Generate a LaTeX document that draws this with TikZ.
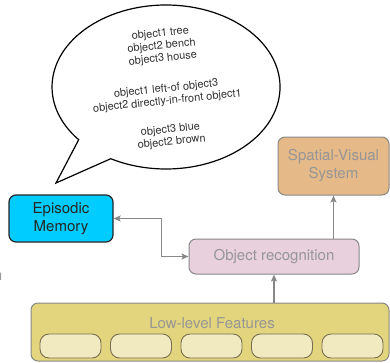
\documentclass[tikz,border=0pt]{standalone}
\usepackage{fontspec}
\setmainfont{TeX Gyre Heros}
\usepackage{tikz}
\usetikzlibrary{arrows.meta,positioning,calc}
\usepackage{xcolor}
\definecolor{MemCyan}{RGB}{0,204,255}
\definecolor{RecPink}{RGB}{232,208,221}
\definecolor{SpatTan}{RGB}{229,185,136}
\definecolor{LowKhaki}{RGB}{227,213,125}
\definecolor{PillCream}{RGB}{241,234,193}
\definecolor{PillEdge}{RGB}{120,110,80}
\definecolor{LabelGray}{RGB}{150,150,150}
\definecolor{LinkGray}{RGB}{136,136,136}

\begin{document}
\begin{tikzpicture}[x=1pt,y=-1pt,
  block/.style={draw=LinkGray,line width=1pt,rounded corners=7pt,
                align=center,font=\fontsize{15}{18}\selectfont,
                text=LabelGray,inner sep=2pt},
  pill/.style={draw=PillEdge,line width=0.9pt,
               fill=PillCream,rounded corners=9pt,
               minimum width=61pt,minimum height=24pt},
  link/.style={draw=LinkGray,line width=1.4pt,
               -{Stealth[length=7pt,width=6pt,inset=1.5pt]}},
]
\useasboundingbox (0,0) rectangle (390,362);

% speech bubble
\draw[fill=white,line width=1.2pt]
  (78.7,139.7) arc[start angle=140,end angle=479,x radius=114,y radius=82]
  -- (56,183) -- cycle;
\node[rotate=6,align=center,text=black!80,
      font=\fontsize{11}{12.5}\selectfont] (thought) at (166,88)
  {object1 tree\\object2 bench\\object3 house\\[18pt]
   object1 left-of object3\\object2 directly-in-front object1\\[16pt]
   object3 blue\\object2 brown};

% boxes
\node[block,fill=MemCyan,draw=black!85,line width=1.2pt,text=black!85,
      minimum width=104pt,minimum height=47pt] (memory) at (61,218.5)
  {Episodic\\Memory};
\node[block,fill=RecPink,minimum width=170pt,minimum height=35pt]
  (objrec) at (274,256.5) {Object recognition};
\node[block,fill=SpatTan,minimum width=111pt,minimum height=58pt]
  (spatial) at (333.5,166) {Spatial-Visual\\System};
\node[block,fill=LowKhaki,minimum width=358pt,minimum height=58pt]
  (lowlevel) at (210,332) {};
\node[text=LabelGray,font=\fontsize{15}{18}\selectfont] (lowtitle)
  at (212,323) {Low-level Features};
\foreach \i in {0,...,4}
  \node[pill] (feat\i) at (70.5+70.5*\i,346) {};

% cut-off label at the left edge
\node[anchor=east,inner sep=0pt,text=LabelGray,
      font=\fontsize{15}{18}\selectfont] (edge) at (2.5,276) {n};

% connectors
\draw[link] (lowlevel.north -| objrec.south) -- (objrec.south);
\draw[link] (objrec.north -| spatial.south) -- (spatial.south);
\draw[link,{Stealth[length=7pt,width=6pt,inset=1.5pt]}-{Stealth[length=7pt,width=6pt,inset=1.5pt]}]
  (memory.east) -- ++(48,0) |- (objrec.west);
\end{tikzpicture}
\end{document}
